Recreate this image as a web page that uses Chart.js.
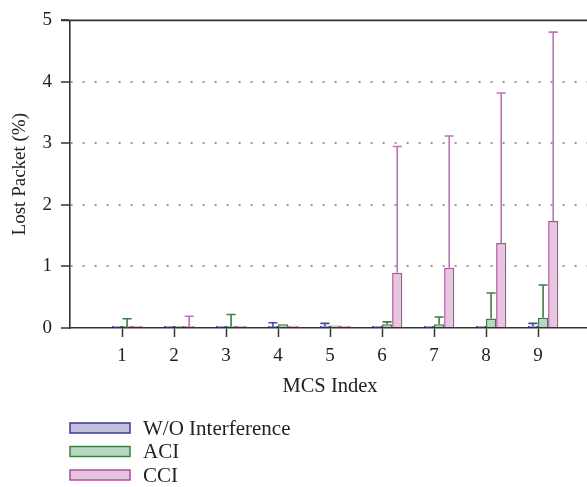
<!DOCTYPE html>
<html>
<head>
<meta charset="utf-8">
<script src="https://cdn.jsdelivr.net/npm/chart.js@4.4.1/dist/chart.umd.min.js"></script>
<style>
  html, body { margin: 0; padding: 0; background: #fff; overflow: hidden; }
  #wrap { width: 590px; height: 487px; }
</style>
</head>
<body>
<div id="wrap"><canvas id="myChart"></canvas></div>
<script>
/* DATA */
const mcsIndex = ["1", "2", "3", "4", "5", "6", "7", "8", "9"];
const seriesNames = ["W/O Interference", "ACI", "CCI"];

const woValues = [0.005, 0.01, 0.015, 0.02, 0.025, 0.02, 0.01, 0.03, 0.03];
const aciValues = [0.005, 0.005, 0.02, 0.06, 0.04, 0.06, 0.06, 0.155, 0.165];
const cciValues = [0.01, 0.02, 0.03, 0.035, 0.03, 0.9, 0.98, 1.38, 1.74];

// upper error (above the bar top)
const woErrors = [0, 0, 0, 0.065, 0.05, 0, 0, 0, 0.045];
const aciErrors = [0.145, 0, 0.2, 0, 0, 0.04, 0.12, 0.415, 0.535];
const cciErrors = [0, 0.17, 0, 0, 0, 2.05, 2.14, 2.44, 3.07];

const yTicks = [0, 1, 2, 3, 4, 5];

const fillColors = ["#c3bfdf", "#b7d8c2", "#e6c5df"];
const lineColors = ["#3d3b98", "#3f7d45", "#b04c9f"];
const errColors = ["#4a48a2", "#3f7d45", "#c271b5"];

const serif = "'Liberation Serif', 'DejaVu Serif', serif";

// empty category at each end so the axis runs 0..10
const labels = [""].concat(mcsIndex, [""]);
function pad(arr) { return [null].concat(arr, [null]); }

// first (empty) dataset pushes each group half a bar to the right
var datasets = [{ label: "", data: pad(mcsIndex.map(function () { return null; })) }];
var valueSets = [woValues, aciValues, cciValues];
var errorSets = [woErrors, aciErrors, cciErrors];
for (var i = 0; i < 3; i++) {
  datasets.push({
    label: seriesNames[i],
    data: pad(valueSets[i]),
    errors: pad(errorSets[i]),
    backgroundColor: fillColors[i],
    borderColor: lineColors[i],
    errColor: errColors[i],
    borderWidth: 1.5,
    minBarLength: 2
  });
}

/* error bars, top line and legend */
const extras = {
  id: "extras",
  afterDatasetsDraw: function (chart) {
    const ctx = chart.ctx;
    const y = chart.scales.y;
    chart.data.datasets.forEach(function (ds, di) {
      if (!ds.errors) return;
      const meta = chart.getDatasetMeta(di);
      meta.data.forEach(function (bar, j) {
        const e = ds.errors[j];
        if (!e) return;
        const v = ds.data[j];
        const yTop = y.getPixelForValue(v + e);
        const yBase = y.getPixelForValue(v);
        const half = bar.width * 0.45;
        ctx.save();
        ctx.strokeStyle = ds.errColor;
        ctx.lineWidth = 1.6;
        ctx.beginPath();
        ctx.moveTo(bar.x, yBase);
        ctx.lineTo(bar.x, yTop);
        ctx.moveTo(bar.x - half, yTop);
        ctx.lineTo(bar.x + half, yTop);
        ctx.stroke();
        ctx.restore();
      });
    });
  },
  afterDraw: function (chart) {
    const ctx = chart.ctx;
    const area = chart.chartArea;
    ctx.save();
    ctx.strokeStyle = "#333";
    ctx.lineWidth = 1.6;
    ctx.beginPath();
    ctx.moveTo(area.left - 9, area.top);
    ctx.lineTo(chart.width, area.top);
    ctx.stroke();

    // legend, one entry per row
    var rowY = 428;
    ctx.font = "21px " + serif;
    ctx.textBaseline = "middle";
    chart.data.datasets.forEach(function (ds) {
      if (!ds.label) return;
      ctx.fillStyle = ds.backgroundColor;
      ctx.fillRect(70, rowY - 5, 60, 10);
      ctx.strokeStyle = ds.borderColor;
      ctx.lineWidth = 1.5;
      ctx.strokeRect(70, rowY - 5, 60, 10);
      ctx.fillStyle = "#222";
      ctx.fillText(ds.label, 143, rowY + 1);
      rowY += 23.5;
    });
    ctx.restore();
  }
};

new Chart("myChart", {
  type: "bar",
  data: {
    labels: labels,
    datasets: datasets
  },
  options: {
    responsive: true,
    maintainAspectRatio: false,
    animation: false,
    datasets: {
      bar: { categoryPercentage: 0.78, barPercentage: 1 }
    },
    layout: { padding: { top: 16, right: 0, left: 0, bottom: 87 } },
    plugins: {
      legend: { display: false },
      tooltip: { enabled: false }
    },
    scales: {
      x: {
        offset: false,
        afterFit: function (s) { s.height = 72; },
        grid: {
          offset: false,
          drawOnChartArea: false,
          tickLength: 9,
          tickWidth: 1.5,
          tickColor: function (c) {
            return (c.index === 0 || c.index === labels.length - 1) ? "transparent" : "#333";
          }
        },
        border: { color: "#333", width: 1.6 },
        ticks: {
          padding: 0,
          color: "#222",
          maxRotation: 0,
          autoSkip: false,
          font: { family: serif, size: 19, lineHeight: 2 }
        },
        title: {
          display: true,
          text: "MCS Index",
          color: "#222",
          padding: { top: 0, bottom: 1 },
          font: { family: serif, size: 20.5 }
        }
      },
      y: {
        min: 0,
        max: 5,
        afterFit: function (s) { s.width = 70; },
        afterBuildTicks: function (s) {
          s.ticks = yTicks.map(function (v) { return { value: v }; });
        },
        grid: {
          color: function (c) {
            return (c.tick && c.tick.value > 0 && c.tick.value < 5) ? "#9a9a9a" : "transparent";
          },
          lineWidth: 2,
          tickLength: 9,
          tickWidth: 1.5,
          tickColor: "#333"
        },
        border: { color: "#333", width: 1.6, dash: [2, 10] },
        ticks: {
          padding: 9,
          color: "#222",
          font: { family: serif, size: 19 }
        },
        title: {
          display: true,
          text: "Lost Packet (%)",
          color: "#222",
          padding: { top: 9, bottom: 0 },
          font: { family: serif, size: 19 }
        }
      }
    }
  },
  plugins: [extras]
});
</script>
</body>
</html>
